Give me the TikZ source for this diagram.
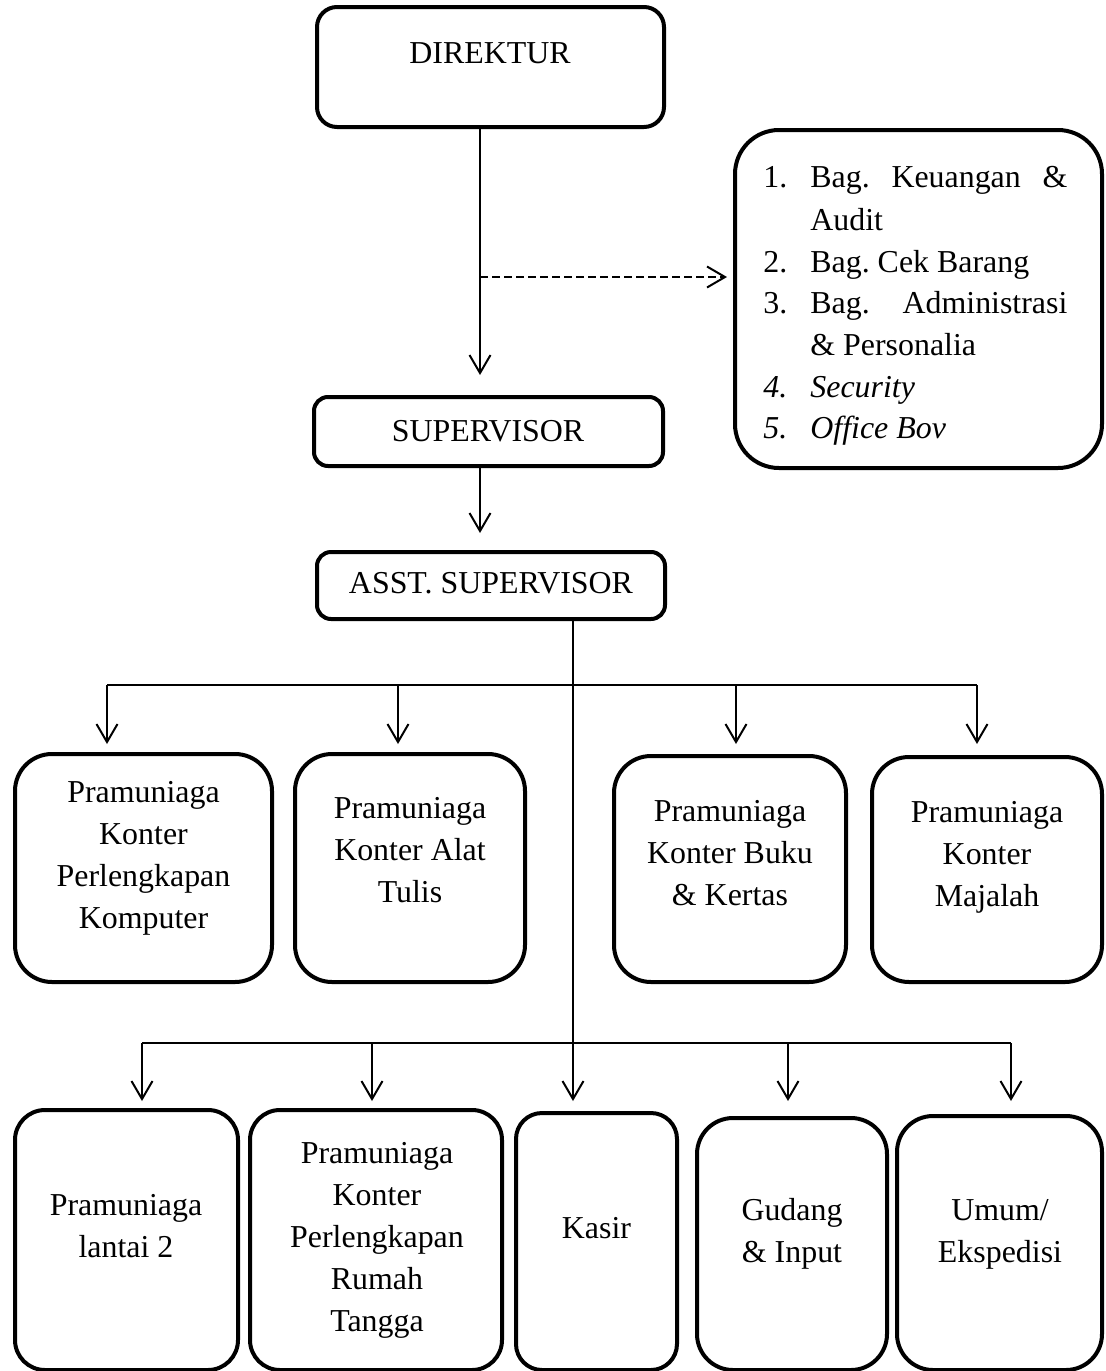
\documentclass[tikz,border=0pt]{standalone}
\usepackage{fontspec}
\setmainfont{Liberation Serif}
\usetikzlibrary{arrows.meta,fit}
\begin{document}
\frenchspacing
\begin{tikzpicture}[x=0.5pt,y=-0.5pt,
  box/.style={draw, line width=2pt, inner sep=0pt},
  txt/.style={inner sep=0pt, font=\fontsize{15.95}{21}\selectfont, align=center},
  con/.style={line width=1pt},
  arr/.style={con, -{Straight Barb[length=9pt,width=10.5pt,line width=1pt]}},
]
\useasboundingbox (0,0) rectangle (1105,1371);

% top boxes
\node[box, rounded corners=10pt, fit={(317,7) (664,127)}] (dir) {};
\node[txt, anchor=base] (dirT) at (490,63) {DIREKTUR};
\node[box, rounded corners=22pt, fit={(735,130) (1102,468)}] (staff) {};
\node[box, rounded corners=7pt, fit={(314,397) (663,466)}] (sup) {};
\node[txt, anchor=base] (supT) at (488,441) {SUPERVISOR};
\node[box, rounded corners=7pt, fit={(317,552) (665,619)}] (asst) {};
\node[txt, anchor=base] (asstT) at (491,593) {ASST. SUPERVISOR};

% staff list
\node[txt, anchor=base west] (n1) at (763,187) {1.};
\node[txt, anchor=base west] (s1) at (810,187) {\makebox[128.5pt][s]{Bag. Keuangan \&}};
\node[txt, anchor=base west] (s1b) at (810,230) {Audit};
\node[txt, anchor=base west] (n2) at (763,272) {2.};
\node[txt, anchor=base west] (s2) at (810,272) {Bag. Cek Barang};
\node[txt, anchor=base west] (n3) at (763,313) {3.};
\node[txt, anchor=base west] (s3) at (810,313) {\makebox[128.5pt][s]{Bag. Administrasi}};
\node[txt, anchor=base west] (s3b) at (810,355) {\& Personalia};
\node[txt, anchor=base west] (n4) at (763,397) {\itshape 4.};
\node[txt, anchor=base west] (s4) at (810,397) {\itshape Security};
\node[txt, anchor=base west] (n5) at (763,438) {\itshape 5.};
\node[txt, anchor=base west] (s5) at (810,438) {\itshape Office Bov};

% row 1
\node[box, rounded corners=18.5pt, fit={(15,754) (272,982)}] (A) {};
\node[txt] (AT) at (143.5,858.5) {Pramuniaga\\Konter\\Perlengkapan\\Komputer};
\node[box, rounded corners=18.5pt, fit={(295,754) (525,982)}] (B) {};
\node[txt] (BT) at (410,849.6) {Pramuniaga\\Konter Alat\\Tulis};
\node[box, rounded corners=18.5pt, fit={(614,756) (846,982)}] (C) {};
\node[txt] (CT) at (730,852.6) {Pramuniaga\\Konter Buku\\\& Kertas};
\node[box, rounded corners=18.5pt, fit={(872,757) (1102,982)}] (D) {};
\node[txt] (DT) at (987,857) {Pramuniaga\\Konter\\Majalah};

% row 2
\node[box, rounded corners=15pt, fit={(15,1110) (238,1370)}] (E) {};
\node[txt] (ET) at (126,1225.6) {Pramuniaga\\lantai 2};
\node[box, rounded corners=15pt, fit={(250,1110) (502,1370)}] (F) {};
\node[txt] (FT) at (377,1240) {Pramuniaga\\Konter\\Perlengkapan\\Rumah\\Tangga};
\node[box, rounded corners=13pt, fit={(516,1113) (677,1370)}] (G) {};
\node[txt, anchor=base] (GT) at (596.5,1238) {Kasir};
\node[box, rounded corners=18pt, fit={(697,1118) (887,1370)}] (H) {};
\node[txt] (HT) at (792,1234) {Gudang\\\& Input};
\node[box, rounded corners=18pt, fit={(897,1116) (1102,1370)}] (I) {};
\node[txt] (IT) at (1000,1234) {Umum/\\Ekspedisi};

% connectors
\coordinate (vx) at (480,0);
\coordinate (vy) at (573,0);
\coordinate (dj) at (480,277);
\draw[arr, shorten >=10pt] (dir.south -| vx) -- (sup.north -| vx);
\draw[arr, dashed, dash pattern=on 4pt off 2pt, shorten >=3pt] (dj) -- (dj -| staff.west);
\draw[arr, shorten >=8.5pt] (sup.south -| vx) -- (asst.north -| vx);
\draw[arr, shorten >=5pt] (asst.south -| vy) -- (G.north -| vy);

\coordinate (h1a) at (107,685);
\coordinate (h1b) at (398,685);
\coordinate (h1c) at (736,685);
\coordinate (h1d) at (977,685);
\draw[con] (h1a) -- (h1d);
\draw[arr, shorten >=4pt] (h1a) -- (h1a |- A.north);
\draw[arr, shorten >=4pt] (h1b) -- (h1b |- B.north);
\draw[arr, shorten >=5pt] (h1c) -- (h1c |- C.north);
\draw[arr, shorten >=5.5pt] (h1d) -- (h1d |- D.north);

\coordinate (h2a) at (142,1043);
\coordinate (h2b) at (372,1043);
\coordinate (h2c) at (788,1043);
\coordinate (h2d) at (1011,1043);
\draw[con] (h2a) -- (h2d);
\draw[arr, shorten >=3.5pt] (h2a) -- (h2a |- E.north);
\draw[arr, shorten >=3.5pt] (h2b) -- (h2b |- F.north);
\draw[arr, shorten >=7.5pt] (h2c) -- (h2c |- H.north);
\draw[arr, shorten >=6.5pt] (h2d) -- (h2d |- I.north);
\end{tikzpicture}
\end{document}
